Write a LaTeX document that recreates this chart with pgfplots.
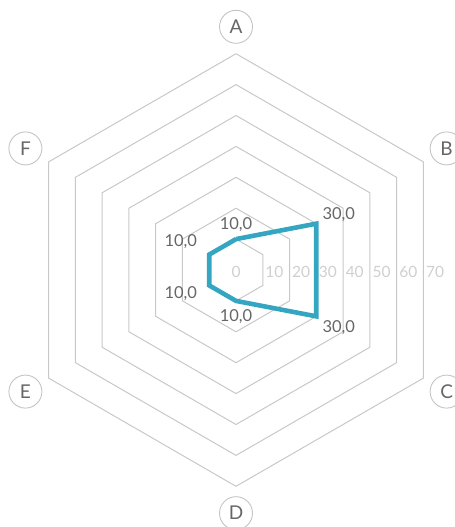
\documentclass[border=0pt]{standalone}
\usepackage{fontspec}
\setmainfont{Lato}
\usepackage{pgfplots}
\usepackage{pgfplotstable}
\pgfplotsset{compat=1.18}
\definecolor{linec}{HTML}{34A6C1}
\definecolor{gridc}{HTML}{C8C8C8}
\definecolor{txt}{HTML}{666666}
\definecolor{tickc}{HTML}{CFCFCF}
\definecolor{circc}{HTML}{C4C4C4}

% series: angle (deg), value
\pgfplotstableread{
ang r
90 10
30 30
-30 30
-90 10
-150 10
150 10
90 10
}\datatab

% value labels with offsets (pt)
\pgfplotstableread{
ang r dx dy lab
90 10 0 14 10,0
30 30 22.5 9.5 30,0
-30 30 22.5 -11 30,0
-90 10 0 -15.8 10,0
-150 10 -28.5 -8.4 10,0
150 10 -28.5 12.9 10,0
}\labtab

\pgfplotstableread{
ang one
90 1
30 1
-30 1
-90 1
-150 1
150 1
90 1
}\hexang

\pgfplotstableread{
ang lab
90 A
30 B
-30 C
-90 D
-150 E
150 F
}\cattab

\pgfplotstableread{
r lab
10 10
20 20
30 30
40 40
50 50
60 60
70 70
}\ticktab

\begin{document}
\begin{tikzpicture}
\begin{axis}[name=ax, hide axis, x=3.09pt, y=3.09pt,
  xmin=-76.38, xmax=70.55, ymin=-83.17, ymax=87.38, clip=false]
\pgfplotsinvokeforeach{10,20,30,40,50,60,70}{
  \addplot[gridc, line width=1pt, line join=miter, mark=none]
    table[x expr={#1*cos(\thisrow{ang})}, y expr={#1*sin(\thisrow{ang})}] {\hexang};
}
% radial tick labels
\addplot[draw=none, mark=none, nodes near coords, point meta=explicit symbolic,
  every node near coord/.style={anchor=west, inner sep=0pt, xshift=2.5pt,
    text=tickc, font=\fontsize{15.5}{17}\selectfont}]
  table[x expr={\thisrow{r}*0.8660254}, y expr={-0.7}, meta=lab] {\ticktab};
\addplot[draw=none, mark=none, nodes near coords, point meta=explicit symbolic,
  every node near coord/.style={anchor=center, inner sep=0pt,
    text=tickc, font=\fontsize{15.5}{17}\selectfont}]
  coordinates {(0,-0.7) [0]};
% data line
\addplot[linec, line width=4.6pt, line join=miter, mark=none]
  table[x expr={\thisrow{r}*cos(\thisrow{ang})}, y expr={\thisrow{r}*sin(\thisrow{ang})}] {\datatab};
% value labels
\addplot[draw=none, mark=none, nodes near coords, point meta=explicit symbolic,
  visualization depends on={\thisrow{dx} \as \dx},
  visualization depends on={\thisrow{dy} \as \dy},
  every node near coord/.style={anchor=center, inner sep=0pt, xshift={\dx*1pt}, yshift={\dy*1pt},
    text=txt, font=\fontsize{16.5}{19}\selectfont}]
  table[x expr={\thisrow{r}*cos(\thisrow{ang})}, y expr={\thisrow{r}*sin(\thisrow{ang})}, meta=lab] {\labtab};
% category labels
\addplot[draw=none, mark=none, nodes near coords, point meta=explicit symbolic,
  every node near coord/.style={anchor=center, circle, draw=circc, line width=0.9pt,
    minimum size=33pt, inner sep=0pt, text=txt, font=\fontsize{19}{21}\selectfont}]
  table[x expr={78.7*cos(\thisrow{ang})}, y expr={78.7*sin(\thisrow{ang})}, meta=lab] {\cattab};
\end{axis}
\pgfresetboundingbox
\path[use as bounding box] (ax.south west) rectangle (ax.north east);
\end{tikzpicture}
\end{document}
